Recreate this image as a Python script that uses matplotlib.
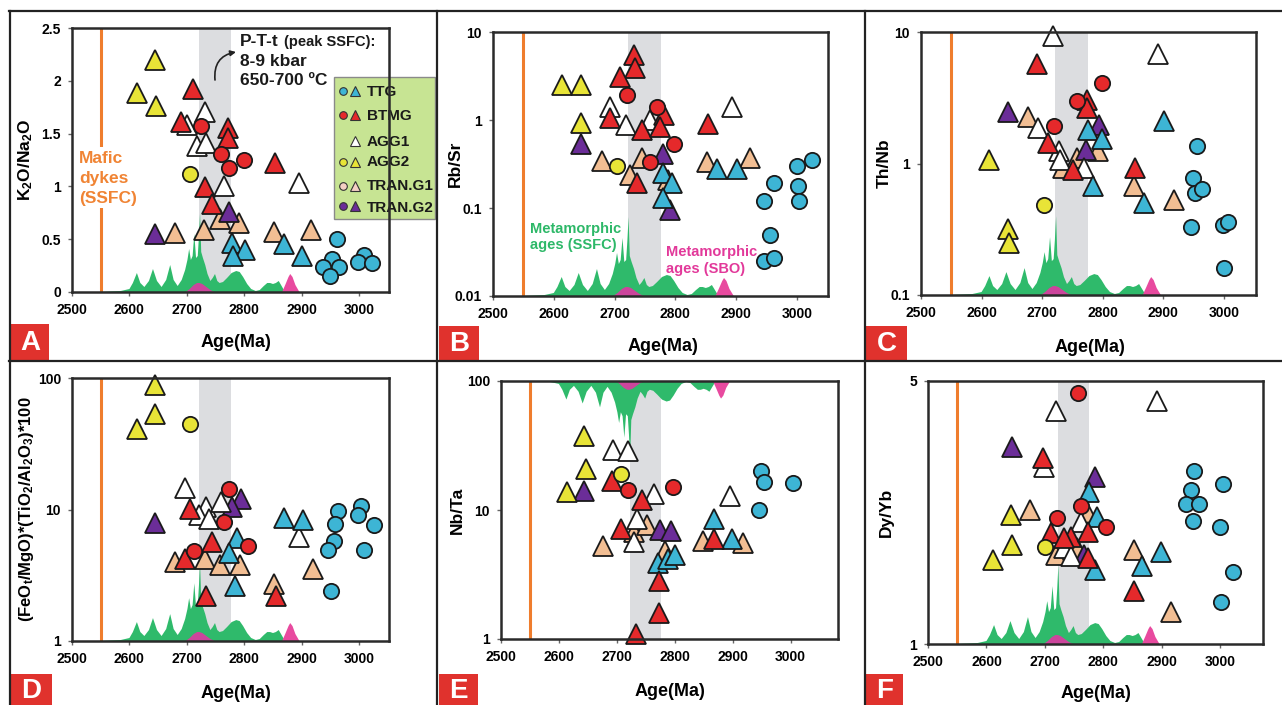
import numpy as np
import matplotlib
matplotlib.use('Agg')
import matplotlib.pyplot as plt
from matplotlib.patches import Rectangle, Polygon
from matplotlib.lines import Line2D
import matplotlib.ticker as mticker

plt.rcParams['font.family'] = ['Liberation Sans', 'DejaVu Sans']
plt.rcParams['font.weight'] = 'bold'
plt.rcParams['mathtext.fontset'] = 'custom'
plt.rcParams['mathtext.bf'] = 'Liberation Sans:bold'
plt.rcParams['mathtext.rm'] = 'Liberation Sans:bold'
plt.rcParams['mathtext.it'] = 'Liberation Sans:bold:italic'

# ---------------- data ----------------
# metamorphic age density curves (height in pixels of a 264 px tall axes)
ssfc_age = [2500, 2550, 2585, 2600, 2606, 2613, 2619, 2626, 2634, 2641, 2648, 2656, 2664, 2671, 2677,
            2684, 2691, 2697, 2701, 2704, 2707, 2710, 2713, 2716, 2719, 2721, 2723, 2725, 2728, 2732,
            2736, 2741, 2745, 2749, 2753, 2757, 2763, 2770, 2778, 2786, 2792, 2798, 2805, 2812, 2820,
            2827, 2834, 2840, 2845, 2850, 2855, 2860, 2864, 2868, 2872]
ssfc_h = [0, 0, 1, 3, 9, 19, 9, 5, 11, 23, 11, 5, 12, 27, 12,
          6, 12, 22, 32, 43, 32, 36, 58, 34, 36, 55, 79, 40, 34, 27,
          18, 11, 14, 18, 11, 9, 10, 14, 19, 21, 20, 15, 8, 3, 1,
          2, 6, 9, 9, 8, 9, 11, 7, 3, 0]
sbo1_age = [2698, 2705, 2712, 2718, 2722, 2727, 2734, 2741, 2748]
sbo1_h = [0, 3, 7, 9, 9, 8, 5, 2, 0]
sbo2_age = [2866, 2872, 2877, 2880, 2884, 2889, 2896]
sbo2_h = [0, 8, 15, 18, 15, 7, 0]
band = (2722, 2776)
dyke_age = 2550

groups = ['TTG', 'BTMG', 'AGG1', 'AGG2', 'TRAN.G1', 'TRAN.G2']
group_colors = ['#3db5d5', '#e5292b', '#ffffff', '#e8e437', '#f2be93', '#6b2d98']

# Panel A: K2O/Na2O
A_ttg_circ = [(2962, 0.50), (2952, 0.31), (2965, 0.24), (2937, 0.24), (2949, 0.15), (3009, 0.35), (2998, 0.28), (3023, 0.27)]
A_ttg_tri = [(2778, 0.46), (2801, 0.40), (2780, 0.34), (2869, 0.45), (2901, 0.34)]
A_btmg_circ = [(2724, 1.57), (2759, 1.31), (2799, 1.25), (2773, 1.17)]
A_btmg_tri = [(2710, 1.92), (2689, 1.61), (2772, 1.55), (2772, 1.46), (2853, 1.22), (2731, 0.99), (2743, 0.83)]
A_agg1_tri = [(2731, 1.70), (2700, 1.58), (2717, 1.38), (2734, 1.41), (2765, 1.00), (2895, 1.03)]
A_agg2_circ = [(2705, 1.12)]
A_agg2_tri = [(2644, 2.20), (2613, 1.88), (2646, 1.76)]
A_tran1_tri = [(2680, 0.56), (2730, 0.59), (2757, 0.69), (2791, 0.65), (2852, 0.57), (2917, 0.59)]
A_tran2_tri = [(2645, 0.55), (2774, 0.76)]

# Panel B: Rb/Sr
B_ttg_circ = [(2962, 0.19), (2945, 0.12), (3000, 0.30), (3024, 0.35), (3001, 0.18), (3004, 0.12), (2955, 0.049), (2945, 0.025), (2962, 0.027)]
B_ttg_tri = [(2780, 0.25), (2794, 0.19), (2779, 0.13), (2868, 0.28), (2901, 0.28)]
B_btmg_circ = [(2721, 1.9), (2770, 1.42), (2797, 0.53), (2759, 0.33)]
B_btmg_tri = [(2732, 5.5), (2734, 3.9), (2709, 3.1), (2692, 1.05), (2782, 1.14), (2745, 0.76), (2775, 0.83), (2854, 0.90), (2737, 0.19)]
B_agg1_tri = [(2692, 1.4), (2718, 0.88), (2758, 1.0), (2893, 1.4)]
B_agg2_circ = [(2704, 0.30)]
B_agg2_tri = [(2614, 2.5), (2645, 2.5), (2645, 0.92)]
B_tran1_tri = [(2679, 0.34), (2745, 0.37), (2725, 0.24), (2788, 0.21), (2852, 0.33), (2923, 0.37)]
B_tran2_tri = [(2645, 0.54), (2780, 0.41), (2791, 0.096)]

# Panel C: Th/Nb
C_ttg_circ = [(2956, 1.35), (2949, 0.78), (2953, 0.60), (2964, 0.64), (2945, 0.33), (2998, 0.34), (3007, 0.36), (3000, 0.16)]
C_ttg_tri = [(2775, 1.79), (2799, 1.53), (2784, 0.68), (2868, 0.50), (2901, 2.09)]
C_btmg_circ = [(2798, 4.1), (2757, 3.0), (2720, 1.92)]
C_btmg_tri = [(2691, 5.75), (2774, 3.05), (2774, 2.64), (2709, 1.43), (2751, 0.90), (2853, 0.92)]
C_agg1_tri = [(2718, 9.3), (2892, 6.8), (2693, 1.86), (2728, 1.24), (2730, 1.07), (2769, 0.92)]
C_agg2_circ = [(2703, 0.48)]
C_agg2_tri = [(2613, 1.07), (2643, 0.32), (2645, 0.25)]
C_tran1_tri = [(2676, 2.26), (2792, 1.24), (2758, 1.10), (2735, 0.92), (2852, 0.68), (2918, 0.53)]
C_tran2_tri = [(2643, 2.45), (2794, 1.97), (2773, 1.27)]

# Panel D: (FeOt/MgO)*(TiO2/Al2O3)*100
D_ttg_circ = [(2963, 9.8), (3004, 10.7), (2998, 9.1), (3026, 7.6), (2958, 7.7), (2956, 5.8), (2945, 4.9), (3009, 4.9), (2951, 2.4)]
D_ttg_tri = [(2788, 6.1), (2773, 4.7), (2869, 8.6), (2902, 8.3), (2784, 2.6)]
D_btmg_circ = [(2774, 14.4), (2764, 8.0), (2806, 5.3), (2713, 4.8)]
D_btmg_tri = [(2706, 10.1), (2744, 5.7), (2696, 4.2), (2734, 2.2), (2855, 2.2)]
D_agg1_tri = [(2697, 14.5), (2734, 10.5), (2721, 9.1), (2738, 8.4), (2760, 11.5), (2895, 6.2)]
D_agg2_circ = [(2706, 45)]
D_agg2_tri = [(2645, 89), (2645, 53), (2614, 41)]
D_tran1_tri = [(2680, 4.0), (2732, 4.2), (2757, 3.8), (2792, 3.8), (2920, 3.5), (2852, 2.7)]
D_tran2_tri = [(2795, 12), (2779, 10.4), (2645, 7.9)]

# Panel E: Nb/Ta
E_ttg_circ = [(2949, 20), (2954, 16.4), (3004, 16.3), (2945, 10)]
E_ttg_tri = [(2772, 3.9), (2788, 4.2), (2801, 4.5), (2867, 8.5), (2899, 6.0)]
E_btmg_circ = [(2719, 14.3), (2797, 15.1)]
E_btmg_tri = [(2692, 16.8), (2744, 12), (2708, 7.1), (2773, 2.8), (2773, 1.6), (2733, 1.09), (2867, 6.0)]
E_agg1_tri = [(2694, 29), (2719, 28.6), (2765, 13.2), (2735, 8.5), (2730, 5.6), (2895, 12.8)]
E_agg2_circ = [(2707, 18.9)]
E_agg2_tri = [(2643, 37.5), (2647, 20.8), (2614, 13.7)]
E_tran1_tri = [(2677, 5.3), (2730, 6.8), (2753, 7.6), (2784, 4.8), (2849, 5.7), (2918, 5.5)]
E_tran2_tri = [(2644, 14), (2775, 7.0), (2794, 6.9)]

# Panel F: Dy/Yb
F_ttg_circ = [(2955, 2.88), (3004, 2.67), (2949, 2.56), (2941, 2.36), (2964, 2.35), (2953, 2.12), (2999, 2.04), (3021, 1.55), (3002, 1.29)]
F_ttg_tri = [(2776, 2.54), (2789, 2.18), (2785, 1.57), (2866, 1.61), (2899, 1.76)]
F_btmg_circ = [(2756, 4.64), (2762, 2.32), (2720, 2.16), (2805, 2.05)]
F_btmg_tri = [(2697, 3.13), (2710, 1.97), (2745, 1.93), (2773, 1.99), (2773, 1.69), (2853, 1.38), (2733, 1.91)]
F_agg1_tri = [(2719, 4.15), (2892, 4.42), (2699, 2.96), (2761, 2.11), (2733, 1.80), (2745, 1.71)]
F_agg2_circ = [(2700, 1.81)]
F_agg2_tri = [(2642, 2.20), (2643, 1.83), (2611, 1.67)]
F_tran1_tri = [(2675, 2.27), (2773, 2.22), (2755, 1.80), (2719, 1.72), (2852, 1.78), (2915, 1.22)]
F_tran2_tri = [(2643, 3.34), (2786, 2.78), (2767, 1.72)]

x_ticks = [2500, 2600, 2700, 2800, 2900, 3000]

# ---------------- figure ----------------
W, H = 1282, 705
fig = plt.figure(figsize=(W / 100, H / 100), dpi=100)

def fx(x):
    return x / W

def fy(y):
    return 1 - y / H

def add_ax(l, t, r, b):
    return fig.add_axes([l / W, 1 - b / H, (r - l) / W, (b - t) / H])

GREEN = '#2fba6b'
PINK1 = '#cc459c'
PINK2 = '#e84a9f'
ORANGE = '#ef7d2d'

def draw_panel(ax, pts, xlim, ylim, log, yticks, ylabels, flip=False):
    ax.set_xlim(*xlim)
    if log:
        ax.set_yscale('log')
    ax.set_ylim(*ylim)
    ax.axvspan(band[0], band[1], color='#dcdde0', lw=0, zorder=0)
    ax.axvline(dyke_age, color=ORANGE, lw=2.2, zorder=1)
    tr = ax.get_xaxis_transform()
    for ages, hs, col, z in [(ssfc_age, ssfc_h, GREEN, 1.5), (sbo1_age, sbo1_h, PINK1, 1.6), (sbo2_age, sbo2_h, PINK2, 1.6)]:
        fr = np.array(hs) / 264.0
        if flip:
            fr = 1 - fr
        ax.add_patch(Polygon(np.column_stack([ages, fr]), closed=True, transform=tr,
                             facecolor=col, edgecolor='none', zorder=z))
    order = [(4, 'tri'), (5, 'tri'), (2, 'tri'), (3, 'tri'), (0, 'tri'), (1, 'tri'),
             (3, 'circ'), (0, 'circ'), (1, 'circ')]
    for gi, shape in order:
        key = (groups[gi], shape)
        if key not in pts:
            continue
        d = pts[key]
        xs = [p[0] for p in d]
        ys = [p[1] for p in d]
        if shape == 'tri':
            ax.plot(xs, ys, ls='none', marker='^', ms=14, mfc=group_colors[gi], mec='#1a1a1a',
                    mew=1.3, zorder=3, clip_on=False)
        else:
            ax.plot(xs, ys, ls='none', marker='o', ms=11, mfc=group_colors[gi], mec='#1a1a1a',
                    mew=1.3, zorder=3.5, clip_on=False)
    ax.set_xticks(x_ticks)
    ax.set_xticklabels([str(t) for t in x_ticks])
    ax.yaxis.set_major_locator(mticker.FixedLocator(yticks))
    ax.yaxis.set_major_formatter(mticker.FixedFormatter(ylabels))
    ax.yaxis.set_minor_locator(mticker.NullLocator())
    ax.xaxis.set_minor_locator(mticker.NullLocator())
    ax.tick_params(direction='out', length=3, width=1, color='#666666', labelsize=10, pad=5)
    for sp in ax.spines.values():
        sp.set_color('#2a2a2a')
        sp.set_linewidth(1.8)
        sp.set_zorder(4)

def pts_of(ttg_c, ttg_t, btmg_c, btmg_t, agg1_t, agg2_c, agg2_t, tr1_t, tr2_t):
    return {('TTG', 'circ'): ttg_c, ('TTG', 'tri'): ttg_t,
            ('BTMG', 'circ'): btmg_c, ('BTMG', 'tri'): btmg_t,
            ('AGG1', 'tri'): agg1_t, ('AGG2', 'circ'): agg2_c, ('AGG2', 'tri'): agg2_t,
            ('TRAN.G1', 'tri'): tr1_t, ('TRAN.G2', 'tri'): tr2_t}

axA = add_ax(72, 28, 389, 292)
draw_panel(axA, pts_of(A_ttg_circ, A_ttg_tri, A_btmg_circ, A_btmg_tri, A_agg1_tri, A_agg2_circ, A_agg2_tri, A_tran1_tri, A_tran2_tri),
           (2500, 3052), (0, 2.5), False, [0, 0.5, 1, 1.5, 2, 2.5], ['0', '0.5', '1', '1.5', '2', '2.5'])
axB = add_ax(493, 32, 828, 296)
draw_panel(axB, pts_of(B_ttg_circ, B_ttg_tri, B_btmg_circ, B_btmg_tri, B_agg1_tri, B_agg2_circ, B_agg2_tri, B_tran1_tri, B_tran2_tri),
           (2500, 3051), (0.01, 10), True, [0.01, 0.1, 1, 10], ['0.01', '0.1', '1', '10'])
axC = add_ax(921, 32, 1256, 295)
draw_panel(axC, pts_of(C_ttg_circ, C_ttg_tri, C_btmg_circ, C_btmg_tri, C_agg1_tri, C_agg2_circ, C_agg2_tri, C_tran1_tri, C_tran2_tri),
           (2500, 3053), (0.1, 10), True, [0.1, 1, 10], ['0.1', '1', '10'])
axD = add_ax(72, 378, 389, 641)
draw_panel(axD, pts_of(D_ttg_circ, D_ttg_tri, D_btmg_circ, D_btmg_tri, D_agg1_tri, D_agg2_circ, D_agg2_tri, D_tran1_tri, D_tran2_tri),
           (2500, 3052), (1, 100), True, [1, 10, 100], ['1', '10', '100'])
axE = add_ax(501, 381, 838, 639)
draw_panel(axE, pts_of(E_ttg_circ, E_ttg_tri, E_btmg_circ, E_btmg_tri, E_agg1_tri, E_agg2_circ, E_agg2_tri, E_tran1_tri, E_tran2_tri),
           (2500, 3082), (1, 100), True, [1, 10, 100], ['1', '10', '100'], flip=True)
axF = add_ax(928, 381, 1263, 644)
draw_panel(axF, pts_of(F_ttg_circ, F_ttg_tri, F_btmg_circ, F_btmg_tri, F_agg1_tri, F_agg2_circ, F_agg2_tri, F_tran1_tri, F_tran2_tri),
           (2500, 3073), (1, 5), True, [1, 5], ['1', '5'])

# axis labels
ylabels = [(axA, r'$\mathbf{K_2O/Na_2O}$', -0.145, 12.5),
           (axB, 'Rb/Sr', -0.113, 12.5),
           (axC, 'Th/Nb', -0.110, 12.5),
           (axD, r'$\mathbf{(FeO_t/MgO){*}(TiO_2/Al_2O_3){*}100}$', -0.142, 12),
           (axE, 'Nb/Ta', -0.128, 12.5),
           (axF, 'Dy/Yb', -0.125, 12.5)]
for ax, s, xc, fs in ylabels:
    ax.set_ylabel(s, fontsize=fs, fontweight='bold')
    ax.yaxis.set_label_coords(xc, 0.5)
    ax.yaxis.label.set_va('center')

xlabels = [(axA, 0.517, -0.193), (axB, 0.507, -0.19), (axC, 0.505, -0.198),
           (axD, 0.517, -0.198), (axE, 0.50, -0.205), (axF, 0.50, -0.19)]
for ax, xc, yc in xlabels:
    ax.set_xlabel('Age(Ma)', fontsize=13, fontweight='bold')
    ax.xaxis.set_label_coords(xc, yc)
    ax.xaxis.label.set_va('center')

# annotations in panel A
fig.text(fx(240), fy(46), 'P-T-t', fontsize=12.5, fontweight='bold', va='baseline', ha='left', color='#1a1a1a')
fig.text(fx(284), fy(46), '(peak SSFC):', fontsize=10.5, fontweight='bold', va='baseline', ha='left', color='#1a1a1a')
fig.text(fx(240), fy(66), '8-9 kbar', fontsize=12.5, fontweight='bold', va='baseline', ha='left', color='#1a1a1a')
fig.text(fx(240), fy(85), '650-700 ºC', fontsize=12.5, fontweight='bold', va='baseline', ha='left', color='#1a1a1a')
axA.annotate('', xy=(236, H - 52), xytext=(215, H - 80), xycoords='figure pixels', textcoords='figure pixels',
             arrowprops=dict(arrowstyle='-|>', connectionstyle='arc3,rad=-0.45', color='#222222', lw=1.2,
                             mutation_scale=8, shrinkA=0, shrinkB=0))
# white backing behind the dyke label (hides the orange line there)
axA.add_patch(Rectangle((fx(77), fy(208)), fx(140) - fx(77), fy(147) - fy(208), transform=fig.transFigure,
                        facecolor='white', edgecolor='none', zorder=1.2))
for txt, yb in [('Mafic', 163), ('dykes', 183), ('(SSFC)', 203)]:
    fig.text(fx(79), fy(yb), txt, fontsize=12.5, fontweight='bold', va='baseline', ha='left', color='#f08434')

# metamorphic ages texts in panel B
fig.text(fx(530), fy(233), 'Metamorphic', fontsize=10.5, fontweight='bold', va='baseline', color='#2db868')
fig.text(fx(530), fy(249), 'ages (SSFC)', fontsize=10.5, fontweight='bold', va='baseline', color='#2db868')
fig.text(fx(666), fy(256), 'Metamorphic', fontsize=10.5, fontweight='bold', va='baseline', color='#e2399a')
fig.text(fx(666), fy(273), 'ages (SBO)', fontsize=10.5, fontweight='bold', va='baseline', color='#e2399a')

# legend in panel A
leg_rows = [(0, True, 91), (1, True, 115), (2, False, 140.5), (3, True, 161.5), (4, True, 185.5), (5, True, 206.5)]
legend_colors = ['#3db5d5', '#e5292b', '#ffffff', '#e8e437', '#f4cfc4', '#6b2d98']
axA.add_patch(Rectangle((fx(334), fy(219)), fx(435) - fx(334), fy(77) - fy(219), transform=fig.transFigure,
                        facecolor='#c7e493', edgecolor='#8a8a8a', lw=1.0, clip_on=False, zorder=3.8))
for gi, has_c, yc in leg_rows:
    if has_c:
        axA.add_line(Line2D([fx(342.5)], [fy(yc)], transform=fig.transFigure, ls='none', marker='o', ms=5.5,
                            mfc=legend_colors[gi], mec='#333333', mew=0.8, clip_on=False, zorder=3.9))
    axA.add_line(Line2D([fx(355)], [fy(yc)], transform=fig.transFigure, ls='none', marker='^', ms=7,
                        mfc=legend_colors[gi], mec='#333333', mew=0.8, clip_on=False, zorder=3.9))
    axA.text(fx(366.5), fy(yc + 5), groups[gi], transform=fig.transFigure, fontsize=11, fontweight='bold',
             va='baseline', ha='left', color='#1a1a1a', zorder=3.95, clip_on=False)

# panel dividers
for (x0, y0, x1, y1) in [(9, 11, W, 11), (9, 361, W, 361), (10, 11, 10, H), (437, 11, 437, H), (865, 11, 865, H)]:
    fig.add_artist(Line2D([fx(x0), fx(x1)], [fy(y0), fy(y1)], transform=fig.transFigure, color='#222222', lw=1.6))

# panel letters
for letter, (l, t, r, b) in zip('ABCDEF', [(11, 324, 49, 360), (439, 326, 479, 360), (866, 326, 907, 360),
                                          (11, 674, 52, 705), (439, 674, 478, 705), (866, 674, 903, 705)]):
    fig.add_artist(Rectangle((fx(l), fy(b)), fx(r) - fx(l), fy(t) - fy(b), transform=fig.transFigure,
                             facecolor='#e0322d', edgecolor='none'))
    fig.text(fx((l + r) / 2), fy((t + b) / 2 + 1), letter, fontsize=20, fontweight='bold', color='white',
             ha='center', va='center')

fig.savefig('out.png', dpi=100)
